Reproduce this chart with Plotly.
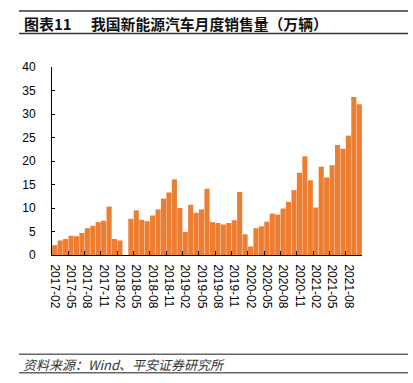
import plotly.graph_objects as go

months = [f"{y}-{m:02d}" for y in range(2017, 2022) for m in range(1, 13)]
months = months[months.index("2017-02"):months.index("2021-10") + 1]

sales = [
    2.1, 3.1, 3.4, 4.1, 4.0, 4.7, 5.7, 6.2, 7.0, 7.3, 10.3,
    3.4, 3.1, None, 7.7, 9.5, 7.5, 7.2, 8.4, 9.7, 12.0, 13.3, 16.1,
    10.0, 4.9, 10.7, 9.0, 9.7, 14.1, 7.0, 6.8, 6.5, 6.8, 7.4, 13.4,
    4.4, 1.8, 5.7, 6.1, 7.1, 8.8, 8.6, 9.9, 11.3, 13.8, 17.5, 21.0,
    15.9, 10.1, 18.8, 16.5, 19.1, 23.4, 22.6, 25.4, 33.6, 32.1,
]

title_num = "图表11"
title_text = "我国新能源汽车月度销售量（万辆）"
source_text = "资料来源：Wind、平安证券研究所"

W, H = 413, 383
ML, MR, MT, MB = 52, 51, 67, 128
PW, PH = W - ML - MR, H - MT - MB


def px(x):
    return (x - ML) / PW


def py(y):
    return (H - MB - y) / PH


FONT = "Liberation Sans, Arial, Noto Sans CJK SC, sans-serif"
CJK = "Noto Sans CJK SC, Liberation Sans, sans-serif"

fig = go.Figure()
fig.add_trace(go.Bar(
    x=months, y=sales,
    marker=dict(color="#ED7D31", line=dict(width=0)),
    hoverinfo="x+y",
))

fig.update_layout(
    width=W, height=H, autosize=False,
    margin=dict(l=ML, r=MR, t=MT, b=MB),
    paper_bgcolor="white", plot_bgcolor="white",
    showlegend=False, bargap=0.06,
    font=dict(family=FONT, size=12, color="#000"),
    xaxis=dict(
        type="category", tickmode="linear", tick0=0, dtick=3,
        tickson="boundaries", ticks="inside", ticklen=4, tickcolor="#000",
        tickangle=90, showline=True, linecolor="#000", linewidth=1,
        showgrid=False, zeroline=False, ticklabelstandoff=6,
        tickfont=dict(family=FONT, size=12, color="#000"),
        range=[-0.5, len(months) - 0.5],
    ),
    yaxis=dict(
        range=[0, 40], dtick=5, tick0=0, ticks="inside", ticklen=3,
        tickcolor="#000", showline=True, linecolor="#000", linewidth=1,
        showgrid=False, zeroline=False, ticklabelstandoff=13,
        tickfont=dict(family=FONT, size=12, color="#000"),
    ),
)

annotations = [
    dict(text=f"<b>{title_num}</b>", x=px(22), y=py(23.5), xanchor="left", yanchor="middle",
         font=dict(family=CJK, size=15, color="#111")),
    dict(text=f"<b>{title_text}</b>", x=px(89), y=py(23.5), xanchor="left", yanchor="middle",
         font=dict(family=CJK, size=14.8, color="#111")),
    dict(text=f"<i>{source_text}</i>", x=px(21), y=py(364.5), xanchor="left", yanchor="middle",
         font=dict(family=CJK, size=13, color="#333")),
]
for a in annotations:
    a.update(xref="paper", yref="paper", showarrow=False)
fig.update_layout(annotations=annotations)

shapes = []
for yy, col in [(11, "#333"), (33.5, "#333"), (354.3, "#666"), (372.7, "#666")]:
    shapes.append(dict(type="line", xref="paper", yref="paper",
                       x0=px(19), x1=px(408), y0=py(yy), y1=py(yy),
                       line=dict(color=col, width=1.6)))
fig.update_layout(shapes=shapes)

fig.write_html(
    "out.html",
    config={"displayModeBar": False},
    post_script="document.body.style.margin='0';document.body.style.overflow='hidden';",
)
